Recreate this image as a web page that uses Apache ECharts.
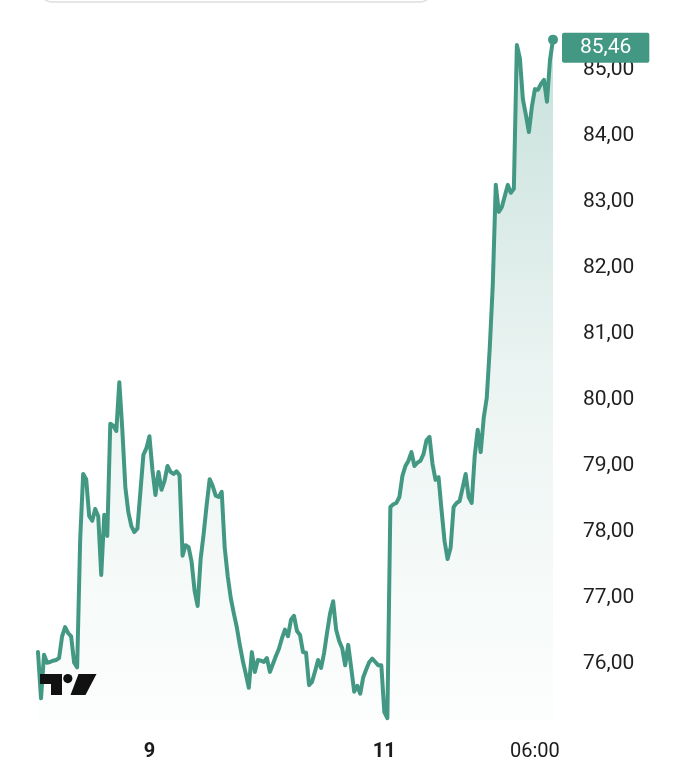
<!DOCTYPE html>
<html><head><meta charset="utf-8">
<script src="https://cdn.jsdelivr.net/npm/echarts@6/dist/echarts.min.js"></script>
<style>html,body{margin:0;padding:0;background:#fff}#c{width:700px;height:778px}</style>
</head><body><div id="c"></div>
<script>
// Price series
const prices = [
76.18,75.48,76.14,76.02,76.03,76.05,76.06,76.09,76.42,76.56,
76.47,76.42,76.02,75.95,77.88,78.88,78.80,78.24,78.17,78.35,
78.24,77.35,78.26,77.94,79.64,79.61,79.53,80.27,79.55,78.68,
78.30,78.09,78.00,78.05,78.61,79.17,79.27,79.45,78.94,78.56,
78.91,78.64,78.77,79.00,78.91,78.88,78.92,78.86,77.64,77.80,
77.77,77.55,77.11,76.88,77.59,77.97,78.41,78.80,78.70,78.55,
78.53,78.61,77.76,77.33,77.00,76.77,76.56,76.29,76.05,75.85,
75.64,76.18,75.88,76.06,76.05,76.03,76.09,75.88,76.00,76.12,
76.23,76.39,76.52,76.42,76.67,76.73,76.50,76.44,76.18,76.17,
75.68,75.73,75.89,76.06,75.94,76.17,76.48,76.77,76.95,76.52,
76.35,76.24,75.98,76.29,75.94,75.58,75.67,75.55,75.80,75.92,
76.03,76.08,76.03,75.98,75.98,75.27,75.18,78.38,78.42,78.44,
78.53,78.85,79.00,79.08,79.21,79.00,79.05,79.08,79.18,79.39,
79.44,79.03,78.79,78.83,78.33,77.86,77.59,77.76,78.38,78.44,
78.47,78.67,78.88,78.53,78.44,79.15,79.55,79.21,79.73,80.03,
80.79,81.74,83.26,82.85,82.92,83.09,83.26,83.14,83.20,85.38,
85.18,84.56,84.32,84.06,84.45,84.71,84.70,84.79,84.85,84.52,
85.15,85.46
];
const categories = prices.map((_, i) => String(i));
// x-axis tick labels
const tickIndex = [37, 115, 165];
const tickText = ['9', '11', '06:00'];
const tickBold = [true, true, false];
// y-axis range/ticks
const yMin = 75, yMax = 86, yStep = 1;
const areaBase = 75.15;

const green = '#439884';
const chart = echarts.init(document.getElementById('c'), null, {renderer: 'canvas'});
const lastIdx = prices.length - 1;

chart.setOption({
  animation: false,
  backgroundColor: '#fff',
  grid: {left: 38, right: 147, top: 4, bottom: 48, containLabel: false},
  xAxis: {
    type: 'category', data: categories, boundaryGap: false,
    axisLine: {show: false}, axisTick: {show: false}, splitLine: {show: false},
    axisLabel: {
      interval: (idx) => tickIndex.indexOf(idx) >= 0,
      margin: 12,
      formatter: (val, idx) => {
        const k = tickIndex.indexOf(Number(val));
        if (k < 0) return '';
        return (tickBold[k] ? '{b|' : '{n|') + tickText[k] + '}';
      },
      rich: {
        b: {fontSize: 20, fontWeight: 'bold', color: '#1b1b1b', fontFamily: 'Roboto'},
        n: {fontSize: 20, color: '#1b1b1b', fontFamily: 'Roboto'}
      }
    }
  },
  yAxis: {
    type: 'value', position: 'right', min: yMin, max: yMax, interval: yStep,
    axisLine: {show: false}, axisTick: {show: false}, splitLine: {show: false},
    axisLabel: {
      showMinLabel: false, showMaxLabel: false, margin: 30,
      fontSize: 21, color: '#1f1f1f', fontFamily: 'Roboto',
      formatter: (v) => v.toFixed(2).replace('.', ',')
    }
  },
  series: [{
    type: 'line', data: prices, smooth: false,
    showSymbol: true, showAllSymbol: true, symbol: 'circle',
    symbolSize: (v, p) => p.dataIndex === lastIdx ? 10 : 0,
    itemStyle: {color: green},
    lineStyle: {color: green, width: 4, join: 'round', cap: 'round'},
    areaStyle: {
      origin: areaBase,
      color: new echarts.graphic.LinearGradient(0, 0, 0, 1, [
        {offset: 0, color: 'rgba(67,152,132,0.42)'},
        {offset: 0.5, color: 'rgba(67,152,132,0.15)'},
        {offset: 1, color: 'rgba(67,152,132,0.02)'}
      ])
    },
    endLabel: {
      show: true, distance: 9, offset: [0, 8],
      formatter: (p) => p.value.toFixed(2).replace('.', ','),
      backgroundColor: green, color: '#fff', fontSize: 21, fontFamily: 'Roboto',
      lineHeight: 22, padding: [4, 18, 4, 18], borderRadius: 2
    },
    emphasis: {disabled: true}
  }],
  graphic: [
    {type: 'rect', z: 100, shape: {x: 40, y: -40, width: 392, height: 42, r: 12},
     style: {fill: '#fff', stroke: '#dedede', lineWidth: 1.5}},
    {type: 'polygon', z: 100, shape: {points: [[40,674],[62,674],[62,695],[51,695],[51,684],[40,684]]},
     style: {fill: '#111'}},
    {type: 'circle', z: 100, shape: {cx: 67.8, cy: 678.6, r: 4.6}, style: {fill: '#111'}},
    {type: 'polygon', z: 100, shape: {points: [[78.5,674],[96.5,674],[85.5,695],[70.5,695]]},
     style: {fill: '#111'}}
  ]
});
</script>
</body></html>
